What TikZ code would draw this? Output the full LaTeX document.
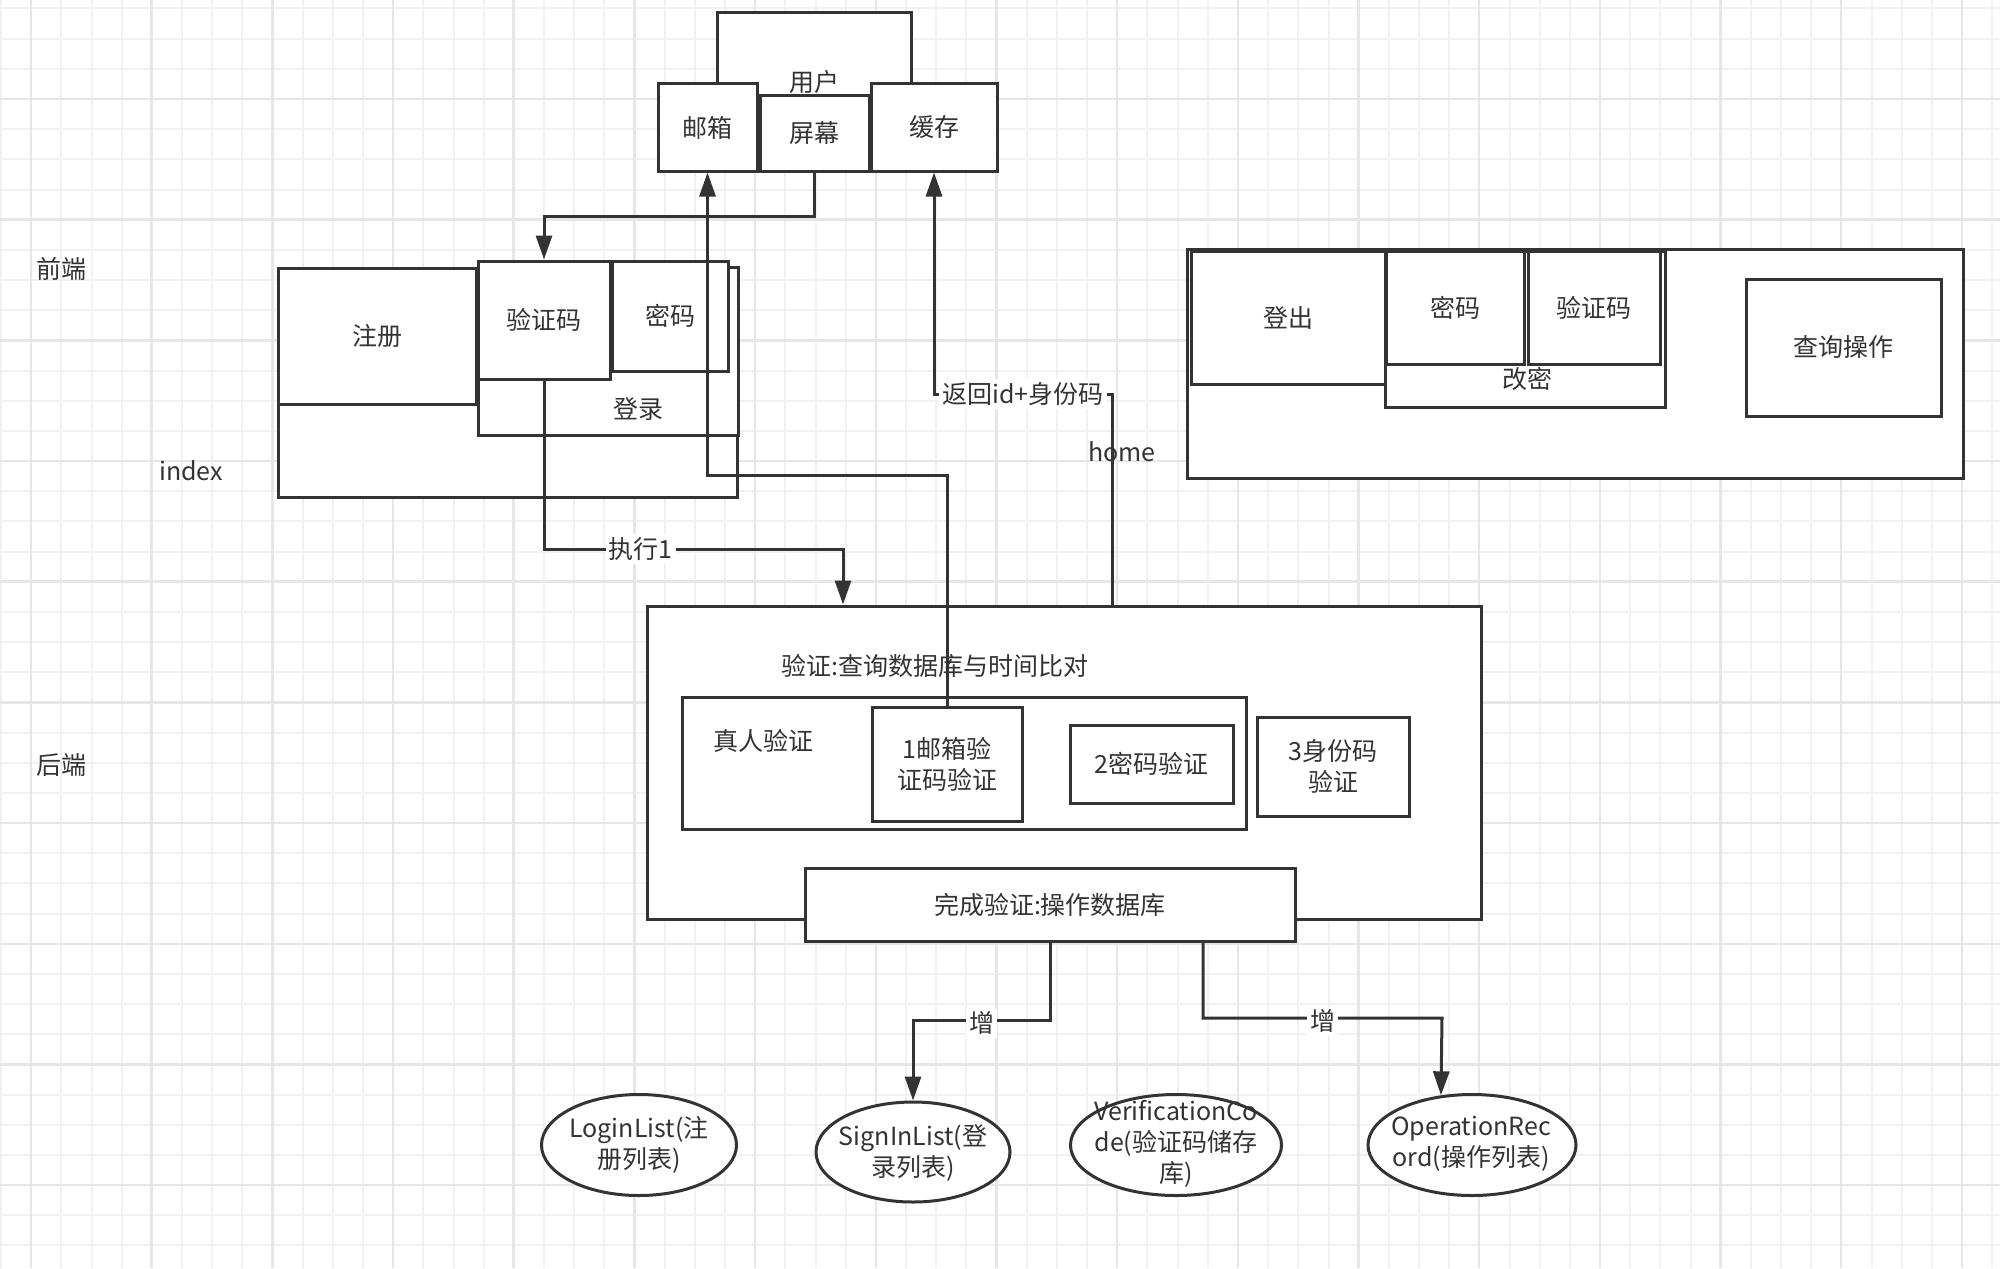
\documentclass[tikz,border=0pt]{standalone}
\usepackage{fontspec}
\setmainfont{Noto Sans CJK SC}
\usetikzlibrary{arrows.meta,shapes.geometric,calc}
\definecolor{ink}{HTML}{333333}
\definecolor{gminor}{HTML}{F1F1F1}
\definecolor{gmajor}{HTML}{E6E6E6}
\begin{document}
\begin{tikzpicture}[x=0.5pt,y=-0.5pt,
  font=\fontsize{12.5pt}{15.5pt}\selectfont,
  inkline/.style={draw=ink, line width=1.5pt},
  box/.style={inkline, fill=white, rectangle, inner sep=0pt, text=ink, align=center},
  oval/.style={inkline, fill=white, ellipse, inner sep=0pt},
  txt/.style={text=ink, inner sep=0pt, align=center},
  arr/.style={inkline, -{Triangle[width=8pt,length=12pt]}},
  lbl/.style={fill=white, text=ink, inner sep=1.5pt},
  gridminor/.style={draw=gminor, line width=1pt},
  gridmajor/.style={draw=gmajor, line width=1.25pt},
]
\useasboundingbox (0,0) rectangle (2000,1268);
\fill[white] (0,0) rectangle (2000,1268);
% grid
\foreach \k in {0,...,66} \draw[gridminor] ({1+30.17*\k},0) -- ({1+30.17*\k},1268);
\foreach \k in {0,...,42} \draw[gridminor] (0,{8.5+30.17*\k}) -- (2000,{8.5+30.17*\k});
\foreach \k in {0,...,16} \draw[gridmajor] ({31+120.68*\k},0) -- ({31+120.68*\k},1268);
\foreach \k in {0,...,9} \draw[gridmajor] (0,{99+120.68*\k}) -- (2000,{99+120.68*\k});

% top: user
\node[box, minimum width=97pt, minimum height=69pt] (user) at (814,82) {用户};
\node[box, minimum width=49.5pt, minimum height=43.5pt] (mail) at (707.5,127.5) {邮箱};
\node[box, minimum width=54.5pt, minimum height=37.5pt] (screen) at (814.5,133.5) {屏幕};
\node[box, minimum width=63pt, minimum height=43.5pt] (cache) at (934,127.5) {缓存};

% front-end left (index)
\node[txt] (fe) at (61,269) {前端};
\node[box, minimum width=229.5pt, minimum height=114.5pt] (index) at (507.5,382.5) {};
\node[txt] (indexlbl) at (191,471) {index};
\node[box, minimum width=99pt, minimum height=68pt] (reg) at (377,336) {注册};
\node[box, minimum width=130pt, minimum height=84pt] (login) at (608,351) {};
\node[txt] (loginlbl) at (638,409) {登录};
\node[box, minimum width=66pt, minimum height=59pt] (vcode) at (544,320) {验证码};
\node[box, minimum width=58pt, minimum height=55pt] (pwd) at (670,316) {密码};

% front-end right (home)
\node[box, minimum width=388pt, minimum height=114.5pt] (home) at (1575,363.5) {};
\node[txt] (homelbl) at (1122,452) {home};
\node[box, minimum width=97pt, minimum height=66.5pt] (logout) at (1288,317.5) {登出};
\node[box, minimum width=140pt, minimum height=78pt] (chpwd) at (1525,329) {};
\node[txt] (chpwdlbl) at (1527,379) {改密};
\node[box, minimum width=69pt, minimum height=56.5pt] (hpwd) at (1455,307.5) {密码};
\node[box, minimum width=66pt, minimum height=56.5pt] (hvcode) at (1594,307.5) {验证码};
\node[box, minimum width=97.5pt, minimum height=68.5pt] (query) at (1843.5,347.5) {查询操作};

% back-end
\node[txt] (be) at (61,765) {后端};
\node[box, minimum width=417pt, minimum height=156.5pt] (verify) at (1064,762.5) {};
\node[txt] (vtitle) at (935,666) {验证:查询数据库与时间比对};
\node[box, minimum width=282pt, minimum height=66pt] (human) at (964,763) {};
\node[txt] (humanlbl) at (763,741) {真人验证};
\node[box, minimum width=75pt, minimum height=57pt] (v1) at (947,764) {1邮箱验\\证码验证};
\node[box, minimum width=81.5pt, minimum height=39pt] (v2) at (1151.5,764) {2密码验证};
\node[box, minimum width=76pt, minimum height=49.5pt] (v3) at (1333,766.5) {3身份码\\验证};
\node[box, minimum width=245pt, minimum height=36.5pt] (done) at (1050,904.5) {完成验证:操作数据库};

% databases
\node[oval, minimum width=97.5pt, minimum height=50.5pt] (e1) at (639,1145) {};
\node[txt] (e1t) at (639,1145) {LoginList(注\\册列表)};
\node[oval, minimum width=97pt, minimum height=50pt] (e2) at (913,1152) {};
\node[txt] (e2t) at (913,1153) {SignInList(登\\录列表)};
\node[oval, minimum width=105.5pt, minimum height=50.5pt] (e3) at (1176,1145) {};
\node[txt] (e3t) at (1176,1144) {VerificationCo\\de(验证码储存\\库)};
\node[oval, minimum width=104pt, minimum height=50.5pt] (e4) at (1472,1145) {};
\node[txt] (e4t) at (1471,1144) {OperationRec\\ord(操作列表)};

% connectors
\coordinate (c1) at (0,216);
\draw[arr] (screen.south) -- (screen.south |- c1) -| (vcode.north);
\coordinate (c2) at (0,475);
\draw[arr] (v1.north) -- (v1.north |- c2) -| (mail.south);
\coordinate (c3) at (1112,394);
\draw[arr] (verify.north -| c3) -- (c3) -| (cache.south) node[lbl, pos=0.25] {返回id+身份码};
\coordinate (c4) at (843,549);
\draw[arr] (vcode.south) |- (c4) node[lbl, pos=0.662] {执行1} -- (c4 |- verify.north);
\coordinate (c5) at (1050,1020);
\draw[arr] (done.south) -- (done.south |- c5) -| (e2.north) node[lbl, pos=0.25, yshift=-1.5pt] {增};
\coordinate (c6) at (1203,1018);
\coordinate (c7) at (1442,1018);
\draw[arr] (done.south -| c6) -- (c6) -- (c7) node[lbl, midway, yshift=-1.5pt] {增} -- (e4.122);
\end{tikzpicture}
\end{document}
